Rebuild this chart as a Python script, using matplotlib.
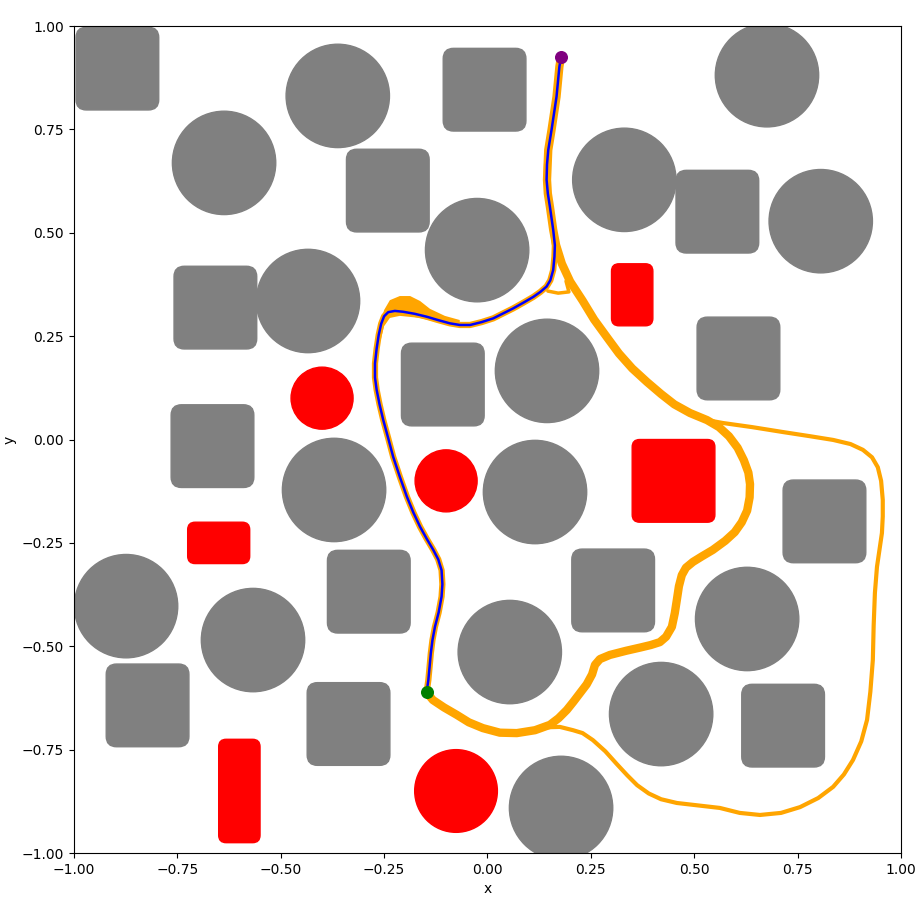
####################################
#   Planner result: paths + obstacles
####################################

import matplotlib
matplotlib.use("Agg")
import matplotlib.pyplot as plt
from matplotlib.patches import Circle, FancyBboxPatch

# Obstacles (gray): circles (x, y, r) and rounded squares (cx, cy, w, h)
gray_circles = [
    (-0.362, 0.831, 0.125), (-0.637, 0.669, 0.125), (0.676, 0.881, 0.125),
    (0.331, 0.628, 0.125), (0.806, 0.528, 0.125), (-0.025, 0.458, 0.125),
    (-0.434, 0.335, 0.125), (0.144, 0.166, 0.125), (-0.371, -0.122, 0.125),
    (0.115, -0.127, 0.125), (-0.874, -0.403, 0.125), (-0.567, -0.485, 0.125),
    (0.628, -0.434, 0.125), (0.054, -0.514, 0.125), (0.420, -0.664, 0.125),
    (0.178, -0.891, 0.125),
]
gray_boxes = [
    (-0.895, 0.897, 0.2, 0.2), (-0.007, 0.846, 0.2, 0.2), (-0.241, 0.602, 0.2, 0.2),
    (0.556, 0.551, 0.2, 0.2), (-0.658, 0.319, 0.2, 0.2), (0.607, 0.196, 0.2, 0.2),
    (-0.108, 0.133, 0.2, 0.2), (-0.665, -0.016, 0.2, 0.2), (0.815, -0.198, 0.2, 0.2),
    (-0.287, -0.368, 0.2, 0.2), (0.304, -0.365, 0.2, 0.2), (-0.822, -0.643, 0.2, 0.2),
    (-0.336, -0.688, 0.2, 0.2), (0.715, -0.692, 0.2, 0.2),
]

# Obstacles (red)
red_circles = [(-0.400, 0.100, 0.075), (-0.100, -0.100, 0.075), (-0.076, -0.850, 0.100)]
red_boxes = [
    (0.35, 0.35, 0.10, 0.15), (0.45, -0.10, 0.20, 0.20),
    (-0.65, -0.25, 0.15, 0.10), (-0.60, -0.85, 0.10, 0.25),
]

# Final path (blue)
path_x = [0.178, 0.174, 0.167, 0.155, 0.147, 0.144, 0.143, 0.146, 0.151, 0.159,
          0.163, 0.162, 0.159, 0.152, 0.143, 0.128, 0.111, 0.087, 0.062, 0.038,
          0.014, -0.014, -0.042, -0.067, -0.091, -0.120, -0.147, -0.176, -0.204, -0.224,
          -0.240, -0.250, -0.257, -0.263, -0.268, -0.272, -0.272, -0.268, -0.261, -0.252,
          -0.240, -0.228, -0.212, -0.195, -0.179, -0.163, -0.147, -0.131, -0.119, -0.111,
          -0.109, -0.111, -0.118, -0.127, -0.133, -0.137, -0.140, -0.143, -0.147]
path_y = [0.926, 0.902, 0.829, 0.749, 0.700, 0.665, 0.628, 0.595, 0.563, 0.507,
          0.470, 0.442, 0.410, 0.385, 0.370, 0.357, 0.345, 0.331, 0.317, 0.305,
          0.293, 0.284, 0.277, 0.277, 0.281, 0.289, 0.297, 0.304, 0.309, 0.311,
          0.308, 0.298, 0.280, 0.253, 0.220, 0.184, 0.150, 0.120, 0.085, 0.047,
          0.003, -0.042, -0.090, -0.138, -0.177, -0.211, -0.240, -0.267, -0.290, -0.316,
          -0.350, -0.380, -0.418, -0.453, -0.485, -0.517, -0.550, -0.582, -0.610]

# Sampled trajectories (orange)
# spread of samples above the path at the top-left corner (outline)
bump_x = [-0.260, -0.250, -0.236, -0.212, -0.187, -0.163, -0.139, -0.103, -0.067,
          -0.067, -0.115, -0.163, -0.212, -0.236, -0.250, -0.258]
bump_y = [0.277, 0.313, 0.337, 0.347, 0.347, 0.335, 0.316, 0.299, 0.289,
          0.272, 0.282, 0.294, 0.299, 0.294, 0.274, 0.241]

route_b_x = [0.178, 0.174, 0.167, 0.155, 0.147, 0.144, 0.146, 0.151, 0.159, 0.166,
             0.180, 0.200, 0.230, 0.258, 0.290, 0.318, 0.350, 0.386, 0.420, 0.452,
             0.490, 0.531, 0.560, 0.584, 0.605, 0.620, 0.631, 0.635, 0.634, 0.628,
             0.615, 0.598, 0.575, 0.545, 0.518, 0.497, 0.480, 0.470, 0.463, 0.458,
             0.453, 0.446, 0.432, 0.417, 0.395, 0.370, 0.335, 0.296, 0.272, 0.260,
             0.253, 0.240, 0.224, 0.208, 0.192, 0.172, 0.151, 0.115, 0.071, 0.030,
             -0.011, -0.045, -0.074, -0.105, -0.132, -0.146]
route_b_y = [0.926, 0.902, 0.829, 0.749, 0.700, 0.628, 0.595, 0.563, 0.507, 0.470,
             0.425, 0.382, 0.336, 0.290, 0.246, 0.208, 0.172, 0.139, 0.110, 0.085,
             0.064, 0.047, 0.030, 0.008, -0.020, -0.050, -0.080, -0.108, -0.140, -0.172,
             -0.200, -0.224, -0.245, -0.267, -0.283, -0.296, -0.310, -0.328, -0.355, -0.388,
             -0.420, -0.453, -0.477, -0.490, -0.497, -0.503, -0.511, -0.521, -0.531, -0.545,
             -0.568, -0.592, -0.613, -0.634, -0.654, -0.674, -0.690, -0.703, -0.710, -0.709,
             -0.698, -0.684, -0.666, -0.648, -0.630, -0.613]

route_c_x = [0.531, 0.569, 0.640, 0.715, 0.780, 0.836, 0.878, 0.908, 0.930, 0.944,
             0.952, 0.956, 0.956, 0.954, 0.948, 0.942, 0.937, 0.934, 0.932, 0.926,
             0.918, 0.904, 0.884, 0.862, 0.836, 0.800, 0.756, 0.710, 0.659, 0.610,
             0.562, 0.510, 0.458, 0.420, 0.390, 0.362, 0.338, 0.312, 0.285, 0.255,
             0.230, 0.207, 0.175, 0.140, 0.103, 0.071]
route_c_y = [0.047, 0.040, 0.030, 0.018, 0.008, -0.001, -0.011, -0.025, -0.043, -0.067,
             -0.100, -0.146, -0.186, -0.226, -0.267, -0.308, -0.371, -0.450, -0.533, -0.610,
             -0.678, -0.730, -0.775, -0.810, -0.840, -0.867, -0.889, -0.903, -0.908, -0.903,
             -0.891, -0.885, -0.879, -0.870, -0.856, -0.836, -0.812, -0.784, -0.754, -0.727,
             -0.710, -0.703, -0.695, -0.696, -0.703, -0.710]

loop_x = [0.146, 0.171, 0.197, 0.190]
loop_y = [0.359, 0.354, 0.357, 0.383]

start = (0.178, 0.926)
goal = (-0.147, -0.610)

# Create plot
fig = plt.figure(figsize=(9.2, 9.0), dpi=100)
ax = fig.add_axes([0.0804, 0.0522, 0.8989, 0.9189])

for cx, cy, r in gray_circles:
    ax.add_patch(Circle((cx, cy), r, color="gray", zorder=1))
for cx, cy, w, h in gray_boxes:
    ax.add_patch(FancyBboxPatch((cx - w / 2, cy - h / 2), w, h,
                                boxstyle="round,pad=0,rounding_size=0.025",
                                color="gray", zorder=1))
for cx, cy, r in red_circles:
    ax.add_patch(Circle((cx, cy), r, color="red", zorder=1))
for cx, cy, w, h in red_boxes:
    ax.add_patch(FancyBboxPatch((cx - w / 2, cy - h / 2), w, h,
                                boxstyle="round,pad=0,rounding_size=0.018",
                                color="red", zorder=1))

# orange bundle
style = dict(color="orange", solid_capstyle="round", solid_joinstyle="round", zorder=2)
ax.plot(path_x, path_y, lw=4.5, **style)
ax.fill(bump_x, bump_y, color="orange", lw=0, zorder=2)
ax.plot(route_b_x, route_b_y, lw=6, **style)
ax.plot(route_c_x, route_c_y, lw=3, **style)
ax.plot(loop_x, loop_y, lw=2.5, **style)

# final path
ax.plot(path_x, path_y, color="blue", lw=1.8, solid_joinstyle="round", zorder=3)
ax.scatter([start[0]], [start[1]], color="purple", s=70, zorder=4)
ax.scatter([goal[0]], [goal[1]], color="green", s=70, zorder=4)

ax.set_xlim(-1, 1)
ax.set_ylim(-1, 1)
ax.set_aspect("equal")
ax.set_xlabel("x")
ax.set_ylabel("y")

plt.savefig("out.png", dpi=100)
